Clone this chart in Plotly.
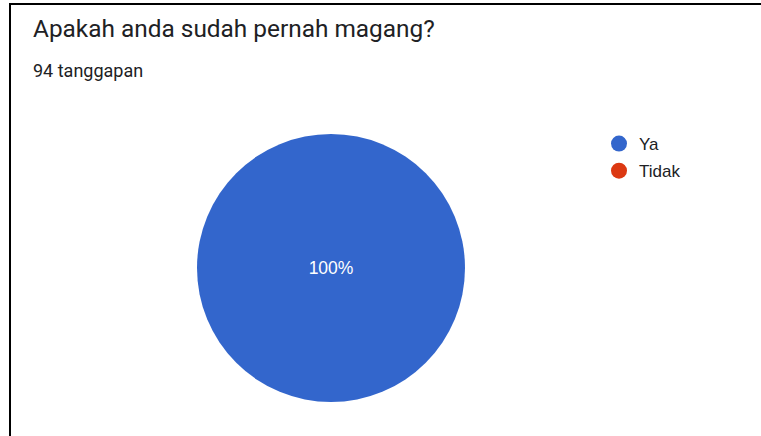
import plotly.graph_objects as go

labels = ["Ya", "Tidak"]
values = [94, 0]
colors = ["#3366cc", "#dc3912"]
title_text = "Apakah anda sudah pernah magang?"
subtitle_text = "94 tanggapan"

W, H = 761, 436
total = sum(values)
texts = [f"{round(v / total * 100)}%" if v > 0 else "" for v in values]

fig = go.Figure()
fig.add_trace(go.Pie(
    labels=labels, values=values, text=texts, textinfo="text",
    marker=dict(colors=colors), sort=False, direction="clockwise",
    showlegend=False, hoverinfo="label+percent",
    textfont=dict(color="white", size=17.5, family="Liberation Sans, Arial"),
    insidetextorientation="horizontal",
    domain=dict(x=[197 / W, 465 / W], y=[1 - 402 / H, 1 - 134 / H]),
))
for lab, col in zip(labels, colors):
    fig.add_trace(go.Scatter(
        x=[None], y=[None], mode="markers", name=lab, legendgroup=lab,
        marker=dict(color=col, size=18, symbol="circle"),
        showlegend=True,
    ))

fig.update_layout(
    width=W, height=H,
    margin=dict(l=0, r=0, t=0, b=0),
    paper_bgcolor="white", plot_bgcolor="white",
    xaxis=dict(visible=False), yaxis=dict(visible=False),
    legend=dict(x=599 / W, y=1 - 126 / H, xanchor="left", yanchor="top",
                font=dict(size=17, family="Liberation Sans, Arial", color="#202124"),
                tracegroupgap=2, itemsizing="trace",
                bgcolor="rgba(0,0,0,0)"),
    annotations=[
        dict(text=title_text, x=31 / W, y=1 - 29 / H, xref="paper", yref="paper",
             xanchor="left", yanchor="middle", showarrow=False,
             font=dict(size=24.4, family="Roboto", color="#202124")),
        dict(text=subtitle_text, x=31 / W, y=1 - 71 / H, xref="paper", yref="paper",
             xanchor="left", yanchor="middle", showarrow=False,
             font=dict(size=18, family="Roboto", color="#202124")),
    ],
    shapes=[
        dict(type="line", xref="paper", yref="paper", x0=9 / W, x1=1, y0=1 - 4 / H, y1=1 - 4 / H,
             line=dict(color="black", width=2)),
        dict(type="line", xref="paper", yref="paper", x0=10 / W, x1=10 / W, y0=0, y1=1 - 4 / H,
             line=dict(color="black", width=2)),
    ],
)

fig.write_html("out.html", config={"displayModeBar": False},
               post_script="document.body.style.margin='0';document.body.style.overflow='hidden';")
